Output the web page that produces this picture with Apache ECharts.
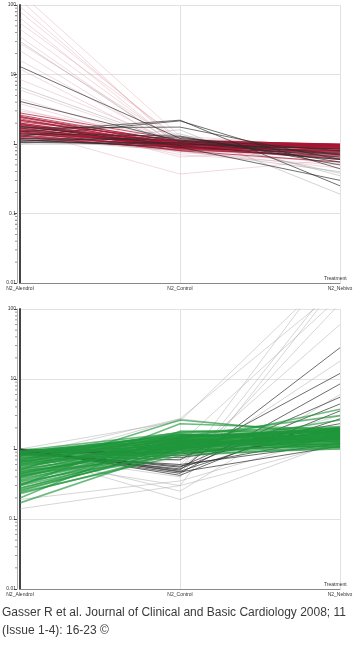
<!DOCTYPE html>
<html><head><meta charset="utf-8">
<script src="https://cdn.jsdelivr.net/npm/echarts@6/dist/echarts.min.js"></script>
<style>html,body{margin:0;padding:0;background:#fff}#c{width:353px;height:661px}</style>
</head><body><div id="c"></div>
<script>
// Categories (treatments)
var categories = ['N2_Alendrol', 'N2_Control', 'N2_Nebivo'];
var yTickLabels = ['0.01', '0.1', '1', '10', '100'];
var minorTickValues = [0.02,0.03,0.04,0.05,0.06,0.07,0.08,0.09,0.2,0.3,0.4,0.5,0.6,0.7,0.8,0.9,2,3,4,5,6,7,8,9,20,30,40,50,60,70,80,90];
var captionLines = ['Gasser R et al. Journal of Clinical and Basic Cardiology 2008; 11', '(Issue 1-4): 16-23 \u00A9'];

// Top panel: each entry = [Alendrol, Control, Nebivo]
var topRedDark = [
 [2.6,1.05,0.95],[2.4,1.0,0.92],[2.2,1.1,0.98],[2.0,1.0,0.9],[1.9,0.95,0.85],[1.8,1.05,0.97],
 [1.7,0.92,0.8],[1.65,1.0,0.93],[1.6,0.9,0.88],[1.55,0.98,0.75],[1.5,0.95,0.95],[1.45,0.88,0.82],
 [1.4,1.02,0.9],[1.35,0.9,0.7],[1.3,0.95,0.86],[1.25,0.85,0.78],[1.2,1.0,0.96],[1.15,0.9,0.8],
 [2.3,0.9,0.72],[2.1,1.12,1.0],[1.95,0.85,0.65],[1.75,1.08,0.95],[2.5,0.95,0.88],[1.85,0.9,0.6],
 [1.5,0.8,0.55],[2.8,1.15,0.98],[1.4,1.1,1.0],[1.3,0.82,0.68],[2.0,0.92,0.78],[1.6,1.0,0.84],
 [2.2,0.97,0.9],[1.9,1.03,0.99],[1.7,0.87,0.74],[2.45,1.08,0.93],[1.55,0.93,0.62]
];
var topRedPale = [
 [150,1.3,0.9],[120,0.9,0.7],[95,1.0,0.9],[80,1.1,0.85],[65,0.9,0.8],[55,1.2,0.95],[45,0.95,0.75],
 [35,0.85,0.9],[28,1.05,0.7],[22,0.8,0.85],[16,0.9,0.6],[8.5,1.0,0.8],[6,0.95,0.9],[4.5,0.9,0.65],
 [3.8,0.88,0.9],[3.2,0.85,0.75],[1.6,0.37,0.6],[2.7,0.75,0.55],[2.2,0.7,0.5],[1.8,0.8,0.45],
 [1.3,0.78,0.7],[1.1,0.9,0.52],[3.0,1.2,0.95],[2.5,0.65,0.85],[12,0.8,0.72]
];
var topBlack = [
 [1.5,2.2,0.25],[1.3,2.15,0.44],[1.7,1.75,0.6],[1.1,1.26,0.55],[1.2,1.14,0.72],[1.05,1.0,0.85],
 [1.15,0.9,0.3],[1.4,1.3,0.5],[1.07,1.05,0.65],[13,1.2,0.8],[4.1,1.1,0.7],[1.8,0.95,0.6]
];
var topGrayPale = [
 [1.0,1.6,0.19],[1.2,0.8,0.4],[1.1,1.4,0.35],[6.6,1.0,0.75],[30,0.9,0.6],[1.3,1.2,0.38]
];

// Bottom panel
var bottomGreen = [
 [0.95,1.7,2.0],[0.92,1.5,1.9],[0.9,1.6,1.8],[0.88,1.4,2.05],[0.85,1.55,1.7],[0.82,1.3,1.6],
 [0.8,1.45,1.95],[0.78,1.2,1.5],[0.75,1.35,1.85],[0.72,1.25,1.4],[0.7,1.5,1.75],[0.68,1.1,1.3],
 [0.65,1.4,1.65],[0.62,1.15,1.55],[0.6,1.3,1.9],[0.58,1.05,1.2],[0.55,1.2,1.45],[0.52,1.0,1.35],
 [0.5,1.25,1.7],[0.48,0.95,1.1],[0.46,1.15,1.6],[0.44,1.35,1.25],[0.42,0.9,1.05],[0.4,1.1,1.5],
 [0.38,1.0,1.8],[0.36,1.2,1.15],[0.34,0.85,1.0],[0.32,1.05,1.4],[0.3,0.95,1.3],[0.28,0.9,1.2],
 [0.26,1.0,1.1],[0.24,0.8,1.05],[0.23,0.88,1.25],[0.9,1.25,1.3],[0.85,1.05,1.5],[0.8,1.65,1.25],
 [0.75,1.0,1.65],[0.7,1.75,2.1],[0.66,0.95,1.15],[0.63,1.6,1.45],[0.57,1.3,1.05],[0.53,1.45,1.9],
 [0.47,1.5,1.55],[0.43,1.25,1.95],[0.39,1.4,1.35],[0.35,1.1,1.75],[0.31,1.2,1.6],[0.27,1.15,1.45],
 [0.25,1.05,1.7],[0.5,2.6,1.6],[0.3,2.3,1.9],[0.2,1.8,1.7],[0.17,1.0,1.4],[0.6,1.2,3.7],
 [0.8,1.5,3.0],[0.45,1.1,2.6],[0.93,1.35,1.15],[0.87,1.6,1.35],[0.67,1.45,2.0],[0.41,1.3,1.85]
];
var bottomBlack = [
 [0.98,0.5,28],[0.95,0.45,8.5],[0.93,0.55,5.5],[1.0,0.42,3.5],[0.9,0.52,4.4],[0.97,0.48,2.7],
 [0.88,0.9,2.3],[0.96,0.8,1.9],[0.85,0.6,1.2],[0.92,0.57,1.5],[0.99,0.47,1.1],[0.94,0.75,1.6],
 [0.86,1.0,2.0],[0.91,1.1,1.8],[0.83,0.7,12],[1.0,0.85,1.4]
];
var bottomGrayPale = [
 [0.9,0.5,600],[0.85,0.4,300],[1.0,2.5,400],[0.7,0.3,250],[0.95,1.2,150],[0.8,0.45,120],
 [0.14,0.3,1.2],[0.19,0.35,1.6],[0.9,0.19,1.3],[0.6,2.7,1.5],[0.75,0.6,60],[0.95,0.55,18],
 [0.88,0.25,6],[0.5,0.7,3],[0.8,2.7,200]
];

var chart = echarts.init(document.getElementById('c'), null, {renderer: 'canvas'});
var series = [];
function addLines(arr, panel, color, opacity, width) {
  arr.forEach(function (row) {
    series.push({
      type: 'line', xAxisIndex: panel, yAxisIndex: panel * 2,
      data: row, symbol: 'none', silent: true, animation: false,
      lineStyle: {color: color, opacity: opacity, width: width}
    });
  });
}
addLines(topRedPale, 0, '#d9889a', 0.4, 0.8);
addLines(topGrayPale, 0, '#9a9a9a', 0.55, 0.8);
addLines(topRedDark, 0, '#a5122f', 0.7, 1);
addLines(topBlack, 0, '#2a2a2a', 0.75, 0.9);
addLines(bottomGrayPale, 1, '#a8a8a8', 0.6, 0.8);
addLines(bottomBlack, 1, '#262626', 0.75, 0.9);
addLines(bottomGreen, 1, '#1f963b', 0.65, 1.6);

[0, 1].forEach(function (p) {
  series.push({
    type: 'scatter', xAxisIndex: p, yAxisIndex: p * 2, clip: false, silent: true, animation: false,
    data: minorTickValues.map(function (v) { return [0, v]; }),
    symbol: 'rect', symbolSize: [2, 0.8], symbolOffset: [-4, 0],
    itemStyle: {color: '#555'}, z: 5
  });
});

function xAxis(gi, withName) {
  return {
    type: 'category', gridIndex: gi, data: categories, boundaryGap: false,
    axisLine: {lineStyle: {color: '#888', width: 1}},
    axisTick: {show: false},
    axisLabel: {fontSize: 5, margin: 3, color: '#333', fontFamily: 'Liberation Sans', interval: 0},
    splitLine: {show: true, lineStyle: {color: '#e2e2e2', width: 1}},
    name: withName ? 'Treatment' : '', nameLocation: 'end', nameGap: -16,
    nameTextStyle: {fontSize: 5, color: '#333', align: 'left', verticalAlign: 'bottom', padding: [0, 0, 2, 0], fontFamily: 'Liberation Sans'}
  };
}
function yAxes(gi, nameColor) {
  return [{
    type: 'log', logBase: 10, min: 0.01, max: 100, gridIndex: gi, position: 'left', offset: 3,
    axisLine: {show: true, lineStyle: {color: '#999', width: 0.8}},
    axisTick: {show: true, length: 3, lineStyle: {color: '#555'}},
    axisLabel: {fontSize: 5, margin: 1, color: '#333', fontFamily: 'Liberation Sans',
      formatter: function (v) { var i = Math.round(Math.log10(v)) + 2; return yTickLabels[i] || ''; }},
    splitLine: {show: true, lineStyle: {color: '#e2e2e2', width: 1}},
    name: 'Normalized Intensity (log scale)', nameLocation: 'middle', nameGap: 12,
    nameTextStyle: {fontSize: 5, color: nameColor, fontFamily: 'Liberation Sans'}
  }, {
    type: 'log', logBase: 10, min: 0.01, max: 100, gridIndex: gi, position: 'left', offset: 0,
    axisLine: {show: true, lineStyle: {color: '#444', width: 2}},
    axisTick: {show: false}, axisLabel: {show: false}, splitLine: {show: false}
  }];
}

chart.setOption({
  animation: false,
  backgroundColor: '#fff',
  grid: [
    {left: 20, top: 5, width: 320, height: 278, containLabel: false, outerBoundsMode: 'none'},
    {left: 20, top: 309, width: 320, height: 280, containLabel: false, outerBoundsMode: 'none'}
  ],
  xAxis: [xAxis(0, true), xAxis(1, true)],
  yAxis: yAxes(0, '#333').concat(yAxes(1, '#bbb')),
  series: series,
  graphic: [
    {type: 'text', left: 2, top: 607, style: {text: captionLines[0], fontSize: 12, fill: '#3a3a3a', fontFamily: 'Liberation Sans'}},
    {type: 'text', left: 2, top: 625, style: {text: captionLines[1], fontSize: 12, fill: '#3a3a3a', fontFamily: 'Liberation Sans'}}
  ]
});
</script></body></html>
